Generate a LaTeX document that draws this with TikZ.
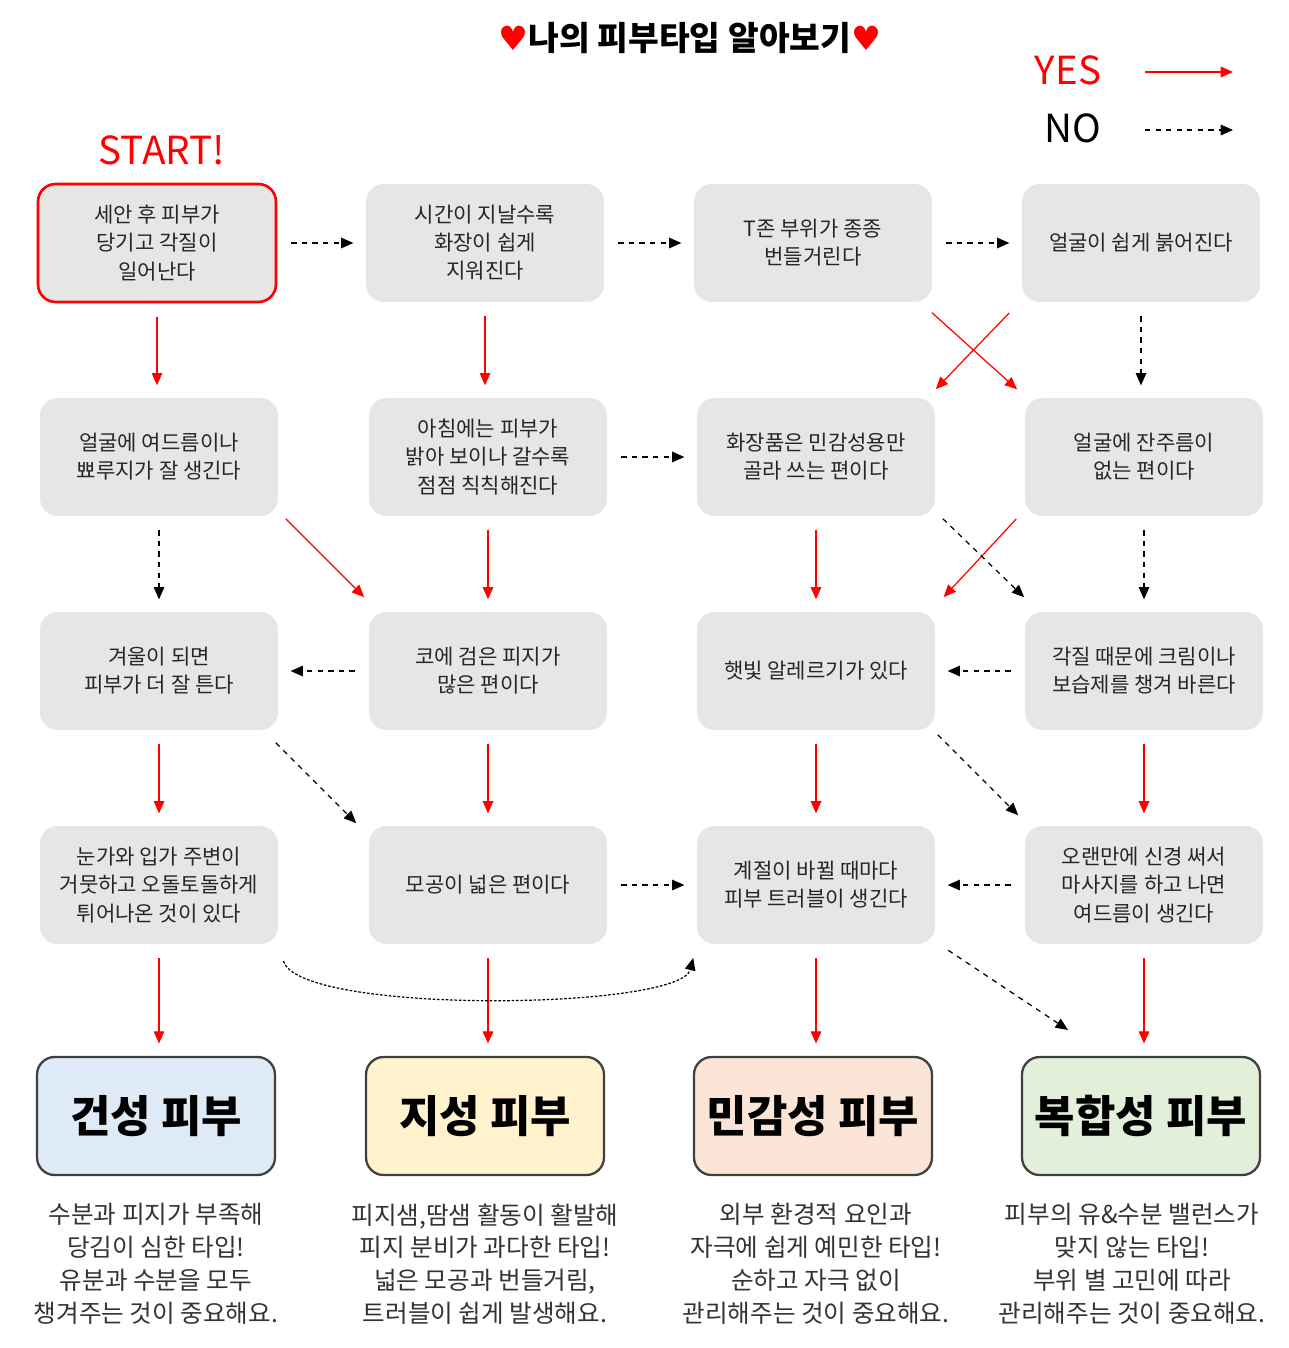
\documentclass[tikz,border=0pt]{standalone}
\usepackage{fontspec}
\setmainfont{Noto Sans CJK KR}
\newfontfamily\symf{DejaVu Sans}
\usetikzlibrary{arrows.meta,calc}
\definecolor{boxgray}{HTML}{E6E6E6}
\definecolor{yesred}{HTML}{FF0000}
\begin{document}
\begin{tikzpicture}[x=0.02cm,y=-0.02cm,
  qbox/.style={fill=boxgray,rounded corners=10pt,minimum width=4.76cm,minimum height=2.36cm,align=center,font=\fontsize{12}{16}\selectfont,text=black!85},
  rbox/.style={draw=black!75,line width=1.3pt,rounded corners=10pt,minimum width=4.76cm,minimum height=2.36cm,font=\fontsize{25}{30}\selectfont\bfseries},
  desc/.style={align=center,font=\fontsize{14}{18.7}\selectfont,text=black!80},
  yes/.style={draw=yesred,line width=0.7pt,-{Triangle[length=7pt,width=6pt]},shorten >=12pt*0.567/0.567*0.6,shorten <=8pt},
  no/.style={draw=black,line width=0.7pt,dashed,dash pattern=on 4pt off 3pt,-{Triangle[length=7pt,width=6pt]},shorten >=7pt,shorten <=8pt}]
\path[fill=white] (0,0) rectangle (1288,1348);
\node (title) at (690,38) {\fontsize{19}{22}\selectfont\bfseries{\symf\color{yesred}♥}나의 피부타입 알아보기{\symf\color{yesred}♥}};
\node[text=yesred,font=\fontsize{22}{24}\selectfont] (yesl) at (1068,70) {YES};
\node[font=\fontsize{22}{24}\selectfont] (nol) at (1073,128) {NO};
\coordinate (ya) at (1145,72); \coordinate (yb) at (1233,72);
\coordinate (na) at (1145,130); \coordinate (nb) at (1233,130);
\draw[draw=yesred,line width=0.7pt,-{Triangle[length=7pt,width=6pt]}] (ya) -- (yb);
\draw[line width=0.7pt,dashed,-{Triangle[length=7pt,width=6pt]}] (na) -- (nb);
\node[text=yesred,font=\fontsize{22}{24}\selectfont] (start) at (162,150) {START!};
% row1
\node[qbox,draw=yesred,line width=1.5pt] (b11) at (157,243) {세안 후 피부가\\당기고 각질이\\일어난다};
\node[qbox] (b12) at (485,243) {시간이 지날수록\\화장이 쉽게\\지워진다};
\node[qbox] (b13) at (813,243) {T존 부위가 종종\\번들거린다};
\node[qbox] (b14) at (1141,243) {얼굴이 쉽게 붉어진다};
% row2
\node[qbox] (b21) at (159,457) {얼굴에 여드름이나\\뾰루지가 잘 생긴다};
\node[qbox] (b22) at (488,457) {아침에는 피부가\\밝아 보이나 갈수록\\점점 칙칙해진다};
\node[qbox] (b23) at (816,457) {화장품은 민감성용만\\골라 쓰는 편이다};
\node[qbox] (b24) at (1144,457) {얼굴에 잔주름이\\없는 편이다};
% row3
\node[qbox] (b31) at (159,671) {겨울이 되면\\피부가 더 잘 튼다};
\node[qbox] (b32) at (488,671) {코에 검은 피지가\\많은 편이다};
\node[qbox] (b33) at (816,671) {햇빛 알레르기가 있다};
\node[qbox] (b34) at (1144,671) {각질 때문에 크림이나\\보습제를 챙겨 바른다};
% row4
\node[qbox] (b41) at (159,885) {눈가와 입가 주변이\\거뭇하고 오돌토돌하게\\튀어나온 것이 있다};
\node[qbox] (b42) at (488,885) {모공이 넓은 편이다};
\node[qbox] (b43) at (816,885) {계절이 바뀔 때마다\\피부 트러블이 생긴다};
\node[qbox] (b44) at (1144,885) {오랜만에 신경 써서\\마사지를 하고 나면\\여드름이 생긴다};
% results
\node[rbox,fill={rgb,255:red,222;green,235;blue,247}] (r1) at (156,1116) {건성 피부};
\node[rbox,fill={rgb,255:red,255;green,242;blue,204}] (r2) at (485,1116) {지성 피부};
\node[rbox,fill={rgb,255:red,251;green,229;blue,214}] (r3) at (813,1116) {민감성 피부};
\node[rbox,fill={rgb,255:red,226;green,240;blue,217}] (r4) at (1141,1116) {복합성 피부};
\node[desc] (d1) at (156,1264) {수분과 피지가 부족해\\당김이 심한 타입!\\유분과 수분을 모두\\챙겨주는 것이 중요해요.};
\node[desc] (d2) at (485,1264) {피지샘,땀샘 활동이 활발해\\피지 분비가 과다한 타입!\\넓은 모공과 번들거림,\\트러블이 쉽게 발생해요.};
\node[desc] (d3) at (816,1264) {외부 환경적 요인과\\자극에 쉽게 예민한 타입!\\순하고 자극 없이\\관리해주는 것이 중요해요.};
\node[desc] (d4) at (1132,1264) {피부의 유\&수분 밸런스가\\맞지 않는 타입!\\부위 별 고민에 따라\\관리해주는 것이 중요해요.};
% YES connectors
\tikzset{y2/.style={draw=yesred,line width=0.7pt,-{Triangle[length=7pt,width=6pt]},shorten >=7pt,shorten <=8pt}}
\foreach \a/\b in {b11/b21,b12/b22,b22/b32,b23/b33,b31/b41,b32/b42,b33/b43,b34/b44,b41/r1,b42/r2,b43/r3,b44/r4}
  \draw[y2] (\a.south) -- (\a.south |- \b.north);
\draw[y2,shorten <=2pt,shorten >=2pt] ($(b21.south east)+(5,0)$) -- ($(b32.north west)+(-2,-12)$);
\draw[y2,shorten <=2pt,shorten >=2pt] ($(b13.south east)+(-3,8)$) -- ($(b24.north west)+(-5,-6)$);
\draw[y2,shorten <=2pt,shorten >=2pt] ($(b14.south west)+(-10,8)$) -- ($(b23.north east)+(-2,-6)$);
\draw[y2,shorten <=2pt,shorten >=2pt] ($(b24.south west)+(-6,0)$) -- ($(b33.north east)+(6,-12)$);
% NO connectors
\tikzset{n2/.style={draw=black,line width=0.7pt,dashed,-{Triangle[length=7pt,width=6pt]},shorten >=7pt,shorten <=8pt}}
\draw[n2] (b11.east) -- (b12.west);
\draw[n2] (b12.east) -- (b13.west);
\draw[n2] (b13.east) -- (b14.west);
\draw[n2] (b22.east) -- (b23.west);
\draw[n2] (b32.west) -- (b31.east);
\draw[n2] (b34.west) -- (b33.east);
\draw[n2] (b42.east) -- (b43.west);
\draw[n2] (b44.west) -- (b43.east);
\draw[n2] (b14.south) -- (b14.south |- b24.north);
\draw[n2] (b21.south) -- (b21.south |- b31.north);
\draw[n2] (b24.south) -- (b24.south |- b34.north);
\draw[n2,shorten <=2pt,shorten >=2pt] ($(b23.south east)+(5,0)$) -- ($(b34.north west)+(2,-12)$);
\draw[n2,shorten <=2pt,shorten >=2pt] ($(b31.south east)+(-5,10)$) -- ($(b42.north west)+(-10,0)$);
\draw[n2,shorten <=2pt,shorten >=2pt] ($(b33.south east)+(0,2)$) -- ($(b44.north west)+(-4,-8)$);
\draw[n2,shorten <=2pt,shorten >=2pt] ($(b43.south east)+(10,4)$) -- ($(r4.north west)+(50,-24)$);
\draw[draw=black,line width=0.7pt,dash pattern=on 1.5pt off 1pt,-{Triangle[length=7pt,width=6pt]},shorten <=10pt,shorten >=8pt]
  (b41.south east) .. controls (300,1015) and (680,1010) .. (b43.south west);
\end{tikzpicture}
\end{document}
